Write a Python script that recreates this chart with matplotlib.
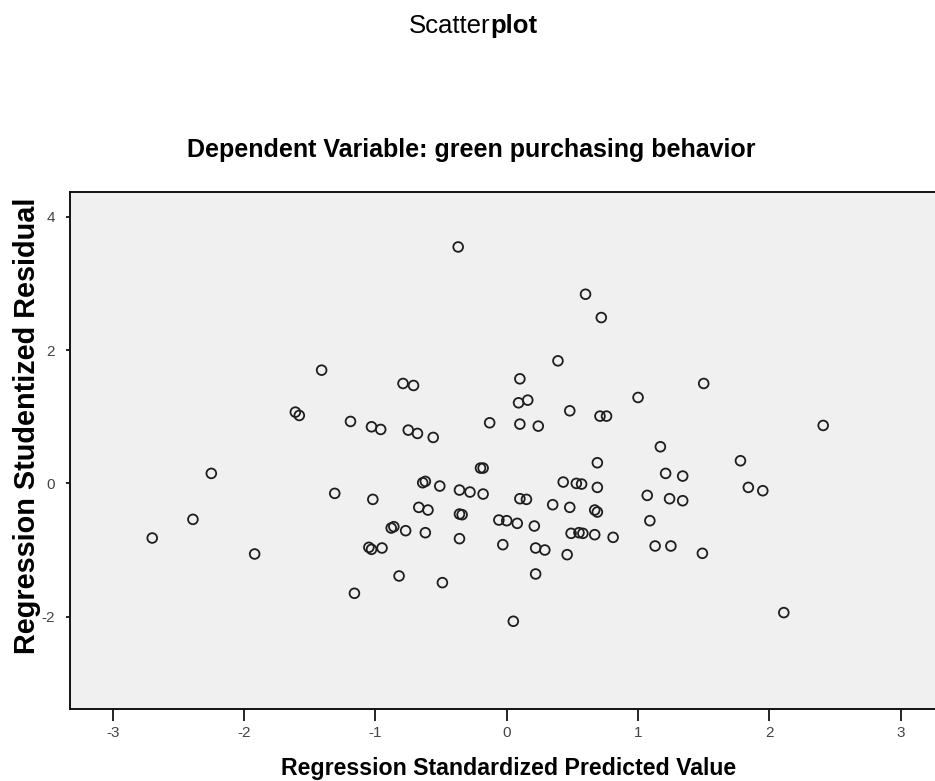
import matplotlib
matplotlib.use("Agg")
import matplotlib.pyplot as plt

# regression standardized predicted value vs studentized residual
pred_value = [-0.37, 0.60, 0.72, 0.39, -1.41, -1.61, -1.58, -1.19, -0.79, -0.71,
              0.10, 0.09, 0.16, 1.00, -1.03, -0.96, -0.75, -0.68, -0.56, -0.13,
              0.10, 0.24, 0.48, 0.71, 0.76, 1.50, 2.41, 1.17, -2.25, -2.39,
              -2.70, -1.92, -1.31, -1.16, -1.02, -0.64, -0.62, -0.51, -0.36, -0.28,
              -0.18, -0.20, -0.18, -0.67, -0.60, -0.36, -0.34, -0.88, -0.86, -0.77,
              -0.62, -1.05, -1.03, -0.95, -0.36, -0.82, -0.49, 0.05, 0.10, 0.15,
              -0.06, 0.00, 0.08, 0.21, -0.03, 0.22, 0.29, 0.22, 0.35, 0.48,
              0.43, 0.53, 0.57, 0.69, 0.69, 0.67, 0.69, 0.49, 0.55, 0.58,
              0.67, 0.81, 0.46, 1.07, 1.09, 1.21, 1.34, 1.24, 1.34, 1.13,
              1.25, 1.49, 1.78, 1.84, 1.95, 2.11]
stud_resid = [3.55, 2.84, 2.49, 1.84, 1.70, 1.07, 1.02, 0.93, 1.50, 1.47,
              1.57, 1.21, 1.25, 1.29, 0.85, 0.81, 0.80, 0.75, 0.69, 0.91,
              0.89, 0.86, 1.09, 1.01, 1.01, 1.50, 0.87, 0.55, 0.15, -0.54,
              -0.82, -1.06, -0.15, -1.65, -0.24, 0.01, 0.03, -0.04, -0.10, -0.13,
              -0.16, 0.23, 0.23, -0.36, -0.40, -0.46, -0.47, -0.67, -0.65, -0.71,
              -0.74, -0.96, -0.99, -0.97, -0.83, -1.39, -1.49, -2.07, -0.23, -0.24,
              -0.55, -0.56, -0.60, -0.64, -0.92, -0.97, -1.00, -1.36, -0.32, -0.36,
              0.02, 0.00, -0.01, 0.31, -0.06, -0.40, -0.43, -0.75, -0.74, -0.75,
              -0.77, -0.81, -1.07, -0.18, -0.56, 0.15, 0.11, -0.23, -0.26, -0.94,
              -0.94, -1.05, 0.34, -0.06, -0.11, -1.94]

x_ticks = [-3, -2, -1, 0, 1, 2, 3]
y_ticks = [-2, 0, 2, 4]

plt.rcParams['font.family'] = ['Liberation Sans', 'DejaVu Sans']
plt.rcParams['axes.unicode_minus'] = False

fig = plt.figure(figsize=(9.35, 7.81), dpi=100)
ax = fig.add_axes([0.0749, 0.0928, 0.9305, 0.6618])
ax.set_facecolor('#f0f0f0')

ax.scatter(pred_value, stud_resid, s=7 ** 2, facecolors='none',
           edgecolors='#1e1e1e', linewidths=1.3)

ax.set_xlim(-3.326, 3.30)
ax.set_ylim(-3.38, 4.38)
ax.set_xticks(x_ticks)
ax.set_yticks(y_ticks)
ax.set_xticklabels([str(t) for t in x_ticks])
ax.set_yticklabels([str(t) for t in y_ticks])

for sp in ax.spines.values():
    sp.set_linewidth(1.4)
    sp.set_color('#111111')

ax.tick_params(axis='x', direction='out', length=8.6, width=1.2, pad=4,
               labelsize=11, labelcolor='#444444')
ax.tick_params(axis='y', direction='out', length=3, width=1.2, pad=8,
               labelsize=11, labelcolor='#444444')

# titles, split "Scatterplot" like the original (plot part in bold)
fig.text(0.5248, 0.9577, 'Scatter', ha='right', va='baseline', fontsize=18.5)
fig.text(0.5248, 0.9577, 'plot', ha='left', va='baseline', fontsize=18.5,
         fontweight='bold')
fig.text(0.5037, 0.799, 'Dependent Variable: green purchasing behavior',
         ha='center', va='baseline', fontsize=18, fontweight='bold')

fig.text(0.5439, 0.0077, 'Regression Standardized Predicted Value',
         ha='center', va='baseline', fontsize=16.7, fontweight='bold')
fig.text(0.0289, 0.4545, 'Regression Studentized Residual', rotation=90,
         ha='center', va='center', fontsize=20.8, fontweight='bold')

fig.savefig('out.png', dpi=100)
